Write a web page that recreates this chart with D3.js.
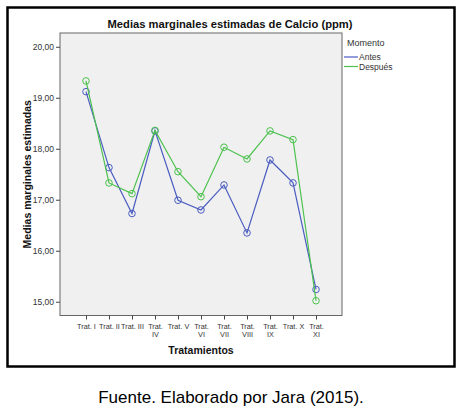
<!DOCTYPE html>
<html><head><meta charset="utf-8">
<script src="https://cdn.jsdelivr.net/npm/d3@7"></script>
<style>body{margin:0;background:#fff}svg{display:block}text{font-family:"Liberation Sans",Arial,sans-serif}</style>
</head><body>
<script>
const categories = ["Trat. I","Trat. II","Trat. III","Trat. IV","Trat. V","Trat. VI","Trat. VII","Trat. VIII","Trat. IX","Trat. X","Trat. XI"];
const tickLabels = [["Trat. I"],["Trat. II"],["Trat. III"],["Trat.","IV"],["Trat. V"],["Trat.","VI"],["Trat.","VII"],["Trat.","VIII"],["Trat.","IX"],["Trat. X"],["Trat.","XI"]];
const antes   = [19.12,17.63,16.73,18.35,16.99,16.80,17.29,16.35,17.78,17.33,15.24];
const despues = [19.33,17.33,17.12,18.36,17.55,17.06,18.03,17.80,18.35,18.18,15.02];
const yTicks = [15,16,17,18,19,20];
const seriesNames = ["Antes","Después"];
const colors = ["#4a5cc0","#4cc24e"];

const W=460,H=418;
const svg=d3.select("body").append("svg").attr("width",W).attr("height",H);
svg.append("rect").attr("x",7.5).attr("y",7.5).attr("width",447).attr("height",359)
  .attr("fill","#fff").attr("stroke","#000").attr("stroke-width",2.5);

const L=60,T=33,R=342,B=315.5;
const x=d3.scalePoint().domain(categories).range([L,R]).padding(1.13);
const y=d3.scaleLinear().domain([14.73,20.27]).range([B,T]);

svg.append("rect").attr("x",L).attr("y",T).attr("width",R-L).attr("height",B-T)
  .attr("fill","#f0f0f0").attr("stroke","#666").attr("stroke-width",1);

// y axis
const ya=svg.append("g").attr("transform",`translate(${L},0)`)
  .call(d3.axisLeft(y).tickValues(yTicks).tickSize(4).tickPadding(2).tickFormat(d=>d3.format(".2f")(d).replace(".",",")));
ya.select(".domain").remove();
ya.selectAll("line").attr("stroke","#444");
ya.selectAll("text").attr("font-size",8.5).attr("fill","#333").style("font-family","Liberation Sans, Arial, sans-serif");

// x axis
const xa=svg.append("g").attr("transform",`translate(0,${B})`)
  .call(d3.axisBottom(x).tickSize(4).tickFormat(""));
xa.select(".domain").remove();
xa.selectAll("line").attr("stroke","#444");
xa.selectAll(".tick").each(function(d,i){
  const t=d3.select(this).append("text").attr("fill","#333").attr("font-size",7.3).attr("text-anchor","middle")
    .style("font-family","Liberation Sans, Arial, sans-serif");
  tickLabels[i].forEach((s,j)=>t.append("tspan").attr("x",0).attr("y",13.5+j*8).text(s));
});

// lines
const line=d3.line().x((d,i)=>x(categories[i])).y(d=>y(d));
[antes,despues].forEach((vals,k)=>{
  svg.append("path").datum(vals).attr("d",line).attr("fill","none").attr("stroke",colors[k]).attr("stroke-width",1.2);
  svg.selectAll(null).data(vals).enter().append("circle")
    .attr("cx",(d,i)=>x(categories[i])).attr("cy",d=>y(d)).attr("r",3.3)
    .attr("fill","none").attr("stroke",colors[k]).attr("stroke-width",1);
});

// title
svg.append("text").attr("x",230).attr("y",28).attr("text-anchor","middle").attr("font-size",11.2).attr("font-weight","bold")
  .attr("fill","#111").text("Medias marginales estimadas de Calcio (ppm)");
svg.append("text").attr("transform",`translate(30.5,${(T+B)/2}) rotate(-90)`).attr("text-anchor","middle")
  .attr("font-size",10.5).attr("font-weight","bold").attr("fill","#111").text("Medias marginales estimadas");
svg.append("text").attr("x",201).attr("y",354).attr("text-anchor","middle").attr("font-size",10.5).attr("font-weight","bold")
  .attr("fill","#111").text("Tratamientos");

// legend
svg.append("text").attr("x",347).attr("y",46).attr("font-size",9).attr("fill","#333").text("Momento");
seriesNames.forEach((n,k)=>{
  const yy=57+k*9.5;
  svg.append("line").attr("x1",344).attr("x2",358).attr("y1",yy).attr("y2",yy).attr("stroke",colors[k]).attr("stroke-width",1.2);
  svg.append("text").attr("x",359).attr("y",yy+3).attr("font-size",8.5).attr("fill","#333").text(n);
});

// caption
svg.append("text").attr("x",231).attr("y",403).attr("text-anchor","middle").attr("font-size",17).attr("fill","#000")
  .text("Fuente. Elaborado por Jara (2015).");
</script>
</body></html>
